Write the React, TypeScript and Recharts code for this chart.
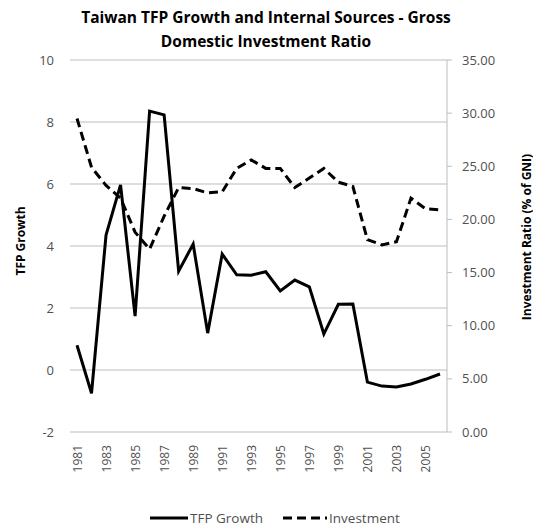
import React from "react";
import { LineChart, Line, XAxis, YAxis, CartesianGrid } from "recharts";

const years = [
  "1981", "1982", "1983", "1984", "1985", "1986", "1987", "1988", "1989", "1990",
  "1991", "1992", "1993", "1994", "1995", "1996", "1997", "1998", "1999", "2000",
  "2001", "2002", "2003", "2004", "2005", "2006",
];

const tfpGrowth = [
  0.8, -0.75, 4.35, 5.97, 1.74, 8.35, 8.23, 3.19, 4.06, 1.19,
  3.74, 3.07, 3.06, 3.17, 2.55, 2.9, 2.68, 1.16, 2.12, 2.13,
  -0.39, -0.52, -0.55, -0.45, -0.3, -0.13,
];

const investment = [
  29.5, 24.9, 23.2, 22.0, 18.8, 17.2, 20.3, 23.0, 22.9, 22.5,
  22.6, 24.8, 25.6, 24.8, 24.8, 23.0, 23.9, 24.8, 23.5, 23.1,
  18.1, 17.6, 17.9, 22.0, 21.0, 20.9,
];

const leftTicks = [-2, 0, 2, 4, 6, 8, 10];
const rightTicks = [0, 5, 10, 15, 20, 25, 30, 35];

const data = years.map((year, i) => ({
  year,
  tfp: tfpGrowth[i],
  investment: investment[i],
}));

const FONT = "'Open Sans', 'DejaVu Sans', sans-serif";
const TEXT = "#505050";

// eslint-disable-next-line @typescript-eslint/no-explicit-any
function YearTick({ x, y, payload }: any) {
  return (
    <text
      x={x}
      y={y}
      transform={`rotate(-90, ${x}, ${y})`}
      textAnchor="end"
      dominantBaseline="central"
      fontSize={12}
      fill={TEXT}
      fontFamily={FONT}
    >
      {payload.value}
    </text>
  );
}

export default function App() {
  return (
    <div style={{ position: "absolute", left: 0, top: 0, width: 533, height: 527, background: "#fff", fontFamily: FONT }}>
      <div
        style={{
          position: "absolute", left: 0, top: 5, width: 532, textAlign: "center",
          fontSize: 15.5, fontWeight: 700, lineHeight: "24px", color: "#000",
        }}
      >
        Taiwan TFP Growth and Internal Sources - Gross
        <br />
        Domestic Investment Ratio
      </div>

      <LineChart width={533} height={527} data={data} margin={{ top: 60, right: 0, bottom: 45, left: 0 }}>
        <CartesianGrid vertical={false} stroke="#bdbdbd" yAxisId="left" />
        <XAxis
          dataKey="year"
          interval={1}
          axisLine={false}
          tickLine={false}
          height={50}
          tick={<YearTick />}
          tickMargin={7}
          padding={{ left: 7, right: 7 }}
        />
        <YAxis
          yAxisId="left"
          orientation="left"
          width={70}
          domain={[-2, 10]}
          ticks={leftTicks}
          axisLine={false}
          tickLine={false}
          tickMargin={10}
          tick={{ fontSize: 13, fill: TEXT, fontFamily: FONT }}
        />
        <YAxis
          yAxisId="right"
          orientation="right"
          width={86}
          domain={[0, 35]}
          ticks={rightTicks}
          tickFormatter={(v: number) => v.toFixed(2)}
          axisLine={{ stroke: "#bdbdbd" }}
          tickLine={{ stroke: "#bdbdbd" }}
          tickSize={5}
          tickMargin={10}
          tick={{ fontSize: 13, fill: TEXT, fontFamily: FONT, textAnchor: "start" }}
        />
        <Line
          yAxisId="left"
          type="linear"
          dataKey="tfp"
          stroke="#000"
          strokeWidth={3}
          dot={false}
          isAnimationActive={false}
        />
        <Line
          yAxisId="right"
          type="linear"
          dataKey="investment"
          stroke="#000"
          strokeWidth={3}
          strokeDasharray="9 5"
          dot={false}
          isAnimationActive={false}
        />
      </LineChart>

      <div
        style={{
          position: "absolute", left: 20, top: 241, transform: "translate(-50%, -50%) rotate(-90deg)",
          fontSize: 12, fontWeight: 700, color: "#000", whiteSpace: "nowrap",
        }}
      >
        TFP Growth
      </div>
      <div
        style={{
          position: "absolute", left: 526, top: 237, transform: "translate(-50%, -50%) rotate(-90deg)",
          fontSize: 12, fontWeight: 700, color: "#000", whiteSpace: "nowrap",
        }}
      >
        Investment Ratio (% of GNI)
      </div>

      <div style={{ position: "absolute", top: 509, left: 150, display: "flex", alignItems: "center", fontSize: 13.5, color: TEXT }}>
        <svg width={38} height={16}>
          <line x1={0} y1={8} x2={38} y2={8} stroke="#000" strokeWidth={3} />
        </svg>
        <span style={{ marginLeft: 2, marginRight: 20 }}>TFP Growth</span>
        <svg width={44} height={16}>
          <line x1={0} y1={8} x2={44} y2={8} stroke="#000" strokeWidth={3} strokeDasharray="9 5" />
        </svg>
        <span style={{ marginLeft: 2 }}>Investment</span>
      </div>
    </div>
  );
}
